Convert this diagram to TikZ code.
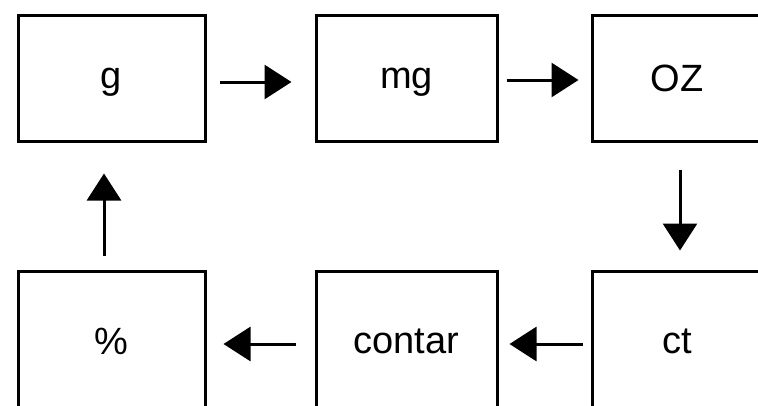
\documentclass[tikz,border=0pt]{standalone}
\usepackage{fontspec}
\setmainfont{Liberation Sans}
\usetikzlibrary{arrows.meta}
\tikzset{
  stage/.style={draw,line width=3pt,minimum height=126pt,inner sep=0pt,
    text depth=0pt,font=\fontsize{38}{40}\selectfont},
  flow/.style={line width=3pt,-{Triangle[length=27pt,width=34pt]}}
}

\begin{document}
\begin{tikzpicture}[x=1pt,y=-1pt]
\clip (0,0) rectangle (758,405);
% top row
\node[stage,minimum width=187pt] (g) at (111.5,78) {g};
\node[stage,minimum width=181pt] (mg) at (406.5,78) {mg};
\node[stage,minimum width=170pt] (oz) at (677,78) {OZ};
% bottom row
\node[stage,minimum width=187pt,minimum height=140pt] (pct) at (111.5,341) {\%};
\node[stage,minimum width=181pt,minimum height=140pt] (contar) at (406.5,341) {contar};
\node[stage,minimum width=170pt,minimum height=140pt] (ct) at (677,341) {ct};
% arrows
\draw[flow,shorten <=13pt,shorten >=23pt] ([yshift=-4pt]g.east) -- ([yshift=-4pt]mg.west);
\draw[flow,shorten <=8pt,shorten >=12pt] ([yshift=-2pt]mg.east) -- ([yshift=-2pt]oz.west);
\draw[flow,shorten <=27pt,shorten >=19pt] ([xshift=3pt]oz.south) -- ([xshift=3pt]ct.north);
\draw[flow,shorten <=8pt,shorten >=11pt] ([yshift=-3pt]ct.west) -- ([yshift=-3pt]contar.east);
\draw[flow,shorten <=19pt,shorten >=17pt] ([yshift=-3pt]contar.west) -- ([yshift=-3pt]pct.east);
\draw[flow,shorten <=14pt,shorten >=31pt] ([xshift=-7.5pt]pct.north) -- ([xshift=-7.5pt]g.south);
\end{tikzpicture}
\end{document}
